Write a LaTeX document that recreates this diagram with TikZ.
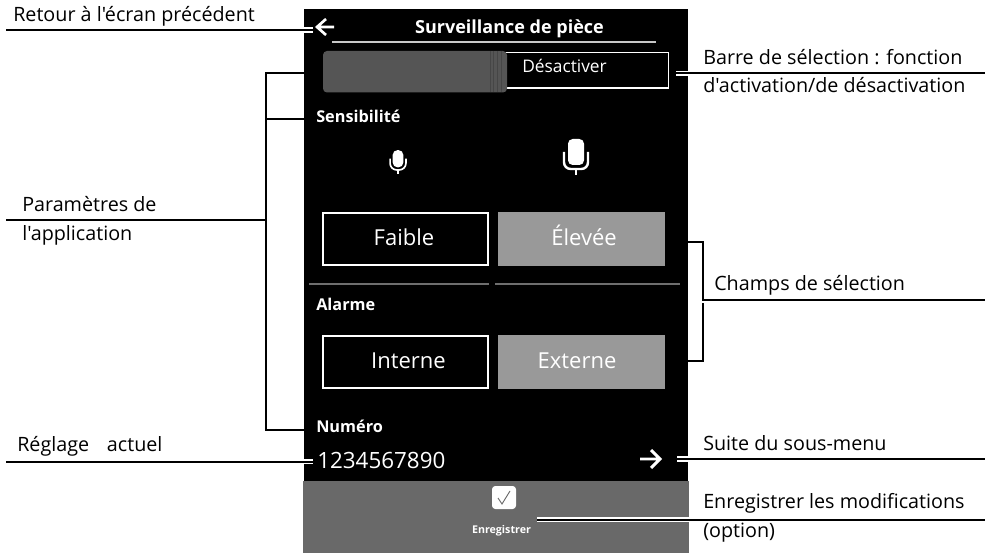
\documentclass[tikz,border=0pt]{standalone}
\usepackage{fontspec}
\setmainfont{Open Sans}[Ligatures=TeXOff]
\definecolor{barg}{HTML}{555555}
\definecolor{fldg}{HTML}{999999}
\definecolor{footg}{HTML}{696969}
\definecolor{rulg}{HTML}{6E6E6E}
\tikzset{
 x=0.75pt,y=-0.75pt,
 lead/.style={draw=black,line width=1.5pt},
 halo/.style={draw=white,line width=4.2pt},
 callout/.style={anchor=base west,inner sep=0pt,font=\fontsize{14.8}{16}\selectfont,text=black},
 scrhead/.style={anchor=base west,inner sep=0pt,text=white,font=\fontsize{12.2}{14}\selectfont\bfseries},
 fieldtxt/.style={anchor=base,inner sep=0pt,text=white,font=\fontsize{16.5}{19}\selectfont},
 outlinebox/.style={draw=white,line width=1.3pt,fill=black,minimum width=124pt,minimum height=39.4pt,inner sep=0pt},
 fillbox/.style={fill=fldg,minimum width=125.25pt,minimum height=40.5pt,inner sep=0pt},
 micline/.style={line width=1.8pt},
 mic/.pic={
  \fill[white,rounded corners=3.5pt] (-8,-21) rectangle (8,5);
  \draw[white,micline,rounded corners=5pt] (-12,-8)--(-12,9)--(12,9)--(12,-8);
  \draw[white,micline] (0,9)--(0,15);
 },
}
\begin{document}
\begin{tikzpicture}
\useasboundingbox (0,0) rectangle (989,556);
\fill[white] (0,0) rectangle (989,556);
\fill[black] (304,9) rectangle (688,481);
\fill[footg] (303,481) rectangle (689,553);
% title
\node[anchor=base,inner sep=0pt,text=white,font=\fontsize{13.5}{15}\selectfont\bfseries] (title) at (509.5,34) {Surveillance de pièce};
\draw[white!78!black,line width=1pt] (332,42) -- (656,42);
% back arrow
\draw[white,line width=2pt,line join=miter] (334,27)--(317,27) (326,19)--(317,27)--(326,35);
% slider
\draw[draw=white,line width=1.3pt,fill=black] (500,52.5) rectangle (668.5,88);
\fill[barg,rounded corners=3pt] (323,51) rectangle (507,92.5);
\foreach \xx in {490,493,497,501}{\draw[black!18!barg,line width=0.4pt] (\xx,51.5)--(\xx,92);}
\node[anchor=base west,inner sep=0pt,text=white,font=\fontsize{13}{15}\selectfont] (des) at (522,73) {Désactiver};
\node[scrhead] (sens) at (316,122.5) {Sensibilité};
% mics
\begin{scope}[micline/.style={line width=1.25pt}]
\pic[scale=0.66] at (398,164) {mic};
\end{scope}
\pic at (576,160) {mic};
% fields
\node[outlinebox] (fb) at (405.5,239) {};
\node[fieldtxt] (faible) at (404,246) {Faible};
\node[fillbox] (fe) at (581.5,239) {};
\node[fieldtxt] (elev) at (584,246) {Élevée};
\draw[rulg,line width=1.1pt] (309,284)--(489,284) (495,284)--(680,284);
\node[scrhead] (alarme) at (316,310) {Alarme};
\node[outlinebox] (fi) at (405.5,362) {};
\node[fieldtxt] (interne) at (408.5,368) {Interne};
\node[fillbox] (fx) at (581.5,362) {};
\node[fieldtxt] (externe) at (577,368) {Externe};
\node[scrhead] (numero) at (316,432) {Numéro};
\node[anchor=base west,inner sep=0pt,text=white,font=\fontsize{16.8}{19}\selectfont] (num) at (317,468) {1234567890};
\draw[white,line width=2.2pt,line join=miter] (640,459)--(660,459) (651,450)--(660,459)--(651,468);
% save
\fill[white,rounded corners=2.5pt] (492,486) rectangle (516,509);
\draw[footg,line width=0.7pt] (498,498)--(502,504)--(510,491);
\node[anchor=base,inner sep=0pt,text=white,font=\fontsize{8}{9}\selectfont\bfseries] (enr) at (501.5,533) {Enregistrer};
% callout texts
\node[callout] (t1) at (13,22) {Retour à l'écran précédent};
\node[callout] (t2) at (22,212) {Paramètres de};
\node[callout] (t2b) at (22,240) {l'application};
\node[callout] (t3) at (17,451) {Réglage\hspace{0.9em}actuel};
\node[callout] (t4) at (703,65) {Barre de sélection : fonction};
\node[callout] (t4b) at (703,92.5) {d'activation/de désactivation};
\node[callout] (t5) at (714,290.5) {Champs de sélection};
\node[callout] (t6) at (703,450) {Suite du sous-menu};
\node[callout] (t7) at (703,508) {Enregistrer les modifications};
\node[callout] (t7b) at (703,537) {(option)};
% connector ends
\coordinate (l1) at (6,30); \coordinate (l1e) at (313,30);
\coordinate (l2) at (6,220); \coordinate (b2) at (266,220);
\coordinate (bt) at (266,73); \coordinate (bm) at (266,119); \coordinate (bb) at (266,430);
\coordinate (st) at (304,73); \coordinate (sm) at (304,119); \coordinate (sb) at (304,430);
\coordinate (l3) at (6,461.5); \coordinate (l3e) at (313,461.5);
\coordinate (r1) at (676,73.5); \coordinate (r1e) at (985,73.5);
\coordinate (c1) at (669,242); \coordinate (c1b) at (703,242);
\coordinate (c2) at (676,361); \coordinate (c2b) at (703,361);
\coordinate (cm) at (703,300); \coordinate (cme) at (985,300); \coordinate (cg) at (703,303);
\coordinate (r3) at (677,459); \coordinate (r3e) at (985,459);
\coordinate (r4) at (537,519.5); \coordinate (r4h) at (689,519.5); \coordinate (r4e) at (985,519.5);
% connectors
\draw[halo] (304,30)--(l1e);
\draw[lead] (l1)--(l1e);
\draw[lead] (l2)--(b2);
\draw[lead] (sb)--(bb)--(bt)--(st);
\draw[lead] (bm)--(sm);
\draw[halo] (304,461.5)--(l3e);
\draw[lead] (l3)--(l3e);
\draw[halo] (r1)--(688,73.5);
\draw[lead] (r1)--(r1e);
\draw[lead] (c1)--(c1b)--(cm)--(cme);
\draw[lead] (c2)--(c2b)--(cg);
\draw[halo] (r3)--(688,459);
\draw[lead] (r3)--(r3e);
\draw[halo] (r4)--(r4h);
\draw[lead] (r4)--(r4e);
\end{tikzpicture}
\end{document}
